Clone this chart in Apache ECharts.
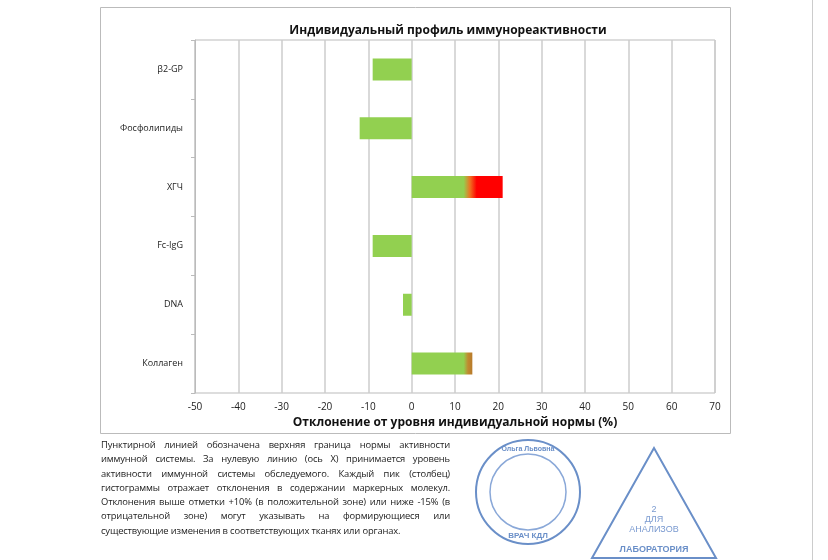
<!DOCTYPE html>
<html><head><meta charset="utf-8">
<script src="https://cdn.jsdelivr.net/npm/echarts@6/dist/echarts.min.js"></script>
<style>
body{margin:0;background:#fff;font-family:"Open Sans",sans-serif;}
#main{position:absolute;left:0;top:0;width:828px;height:560px;}
#note{position:absolute;left:101px;top:438px;width:349px;font-size:9.4px;line-height:14.3px;text-align:justify;color:#222;font-family:"Open Sans",sans-serif;letter-spacing:-0.15px;}
</style></head>
<body>
<div id="main"></div>
<div id="note">Пунктирной линией обозначена верхняя граница нормы активности иммунной системы. За нулевую линию (ось Х) принимается уровень активности иммунной системы обследуемого. Каждый пик (столбец) гистограммы отражает отклонения в содержании маркерных молекул. Отклонения выше отметки +10% (в положительной зоне) или ниже -15% (в отрицательной зоне) могут указывать на формирующиеся или существующие изменения в соответствующих тканях или органах.</div>
<script>
var categories = ['Коллаген', 'DNA', 'Fc-IgG', 'ХГЧ', 'Фосфолипиды', 'β2-GP'];
var values = [14, -2, -9, 21, -12, -9];

var GREEN = '#92D050';
function barColor(v) {
    if (v <= 12) return GREEN;
    var stops = [{offset: 0, color: GREEN}, {offset: 12 / v, color: GREEN}];
    if (v > 15) {
        stops.push({offset: 13.5 / v, color: '#F07020'});
        stops.push({offset: 15 / v, color: '#FF0000'});
        stops.push({offset: 1, color: '#FF0000'});
    } else {
        stops.push({offset: 13 / v, color: '#C08A30'});
        stops.push({offset: 1, color: '#B87A2A'});
    }
    return new echarts.graphic.LinearGradient(0, 0, 1, 0, stops);
}

var chart = echarts.init(document.getElementById('main'));
var option = {
    animation: false,
    textStyle: {fontFamily: '"Open Sans", sans-serif'},
    title: {
        text: 'Индивидуальный профиль иммунореактивности',
        left: 443, top: 20, textAlign: 'center',
        textStyle: {fontSize: 12, fontWeight: 'bold', color: '#111'}
    },
    graphic: [
        {type: 'rect', shape: {x: 100.5, y: 7.5, width: 630, height: 426}, style: {fill: null, stroke: '#bbb', lineWidth: 1}, z: -1},
        {type: 'line', shape: {x1: 812.5, y1: 0, x2: 812.5, y2: 560}, style: {stroke: '#ccc'}},
        {type: 'circle', shape: {cx: 528, cy: 492, r: 52}, style: {fill: null, stroke: '#6a8fc8', lineWidth: 2}},
        {type: 'circle', shape: {cx: 528, cy: 492, r: 38}, style: {fill: null, stroke: '#8aa8d8', lineWidth: 1.5}},
        {type: 'text', style: {x: 528, y: 446, text: 'Ольга Львовна', fill: '#6a8fc8', font: 'bold 7px sans-serif', align: 'center'}},
        {type: 'text', style: {x: 528, y: 532, text: 'ВРАЧ КДЛ', fill: '#6a8fc8', font: 'bold 8px sans-serif', align: 'center'}},
        {type: 'polygon', shape: {points: [[654, 448], [592, 558], [716, 558]]}, style: {fill: null, stroke: '#6a8fc8', lineWidth: 2}},
        {type: 'text', style: {x: 654, y: 505, text: '2\nДЛЯ\nАНАЛИЗОВ', fill: '#7a9ad0', font: '9px sans-serif', align: 'center', lineHeight: 10}},
        {type: 'text', style: {x: 654, y: 545, text: 'ЛАБОРАТОРИЯ', fill: '#6a8fc8', font: 'bold 9px sans-serif', align: 'center'}}
    ],
    grid: {left: 195, right: 113, top: 40, bottom: 167, show: true, borderColor: '#bbb', borderWidth: 1},
    xAxis: {
        type: 'value', min: -50, max: 70, interval: 10,
        name: 'Отклонение от уровня индивидуальной нормы (%)',
        nameLocation: 'middle', nameGap: 23,
        nameTextStyle: {fontSize: 12, fontWeight: 'bold', color: '#111'},
        axisLine: {show: false}, axisTick: {show: false},
        axisLabel: {fontSize: 10, color: '#222', margin: 9},
        splitLine: {lineStyle: {color: '#ccc', width: 1.5}}
    },
    yAxis: {
        type: 'category', data: categories,
        axisLine: {show: true, onZero: false, lineStyle: {color: '#bbb'}},
        axisTick: {show: true, length: 4, lineStyle: {color: '#bbb'}},
        axisLabel: {fontSize: 9, color: '#222', margin: 12}
    },
    series: [{
        type: 'bar', barWidth: 22,
        data: values.map(function (v) { return {value: v, itemStyle: {color: barColor(v)}}; })
    }]
};
chart.setOption(option);
</script>
</body></html>
